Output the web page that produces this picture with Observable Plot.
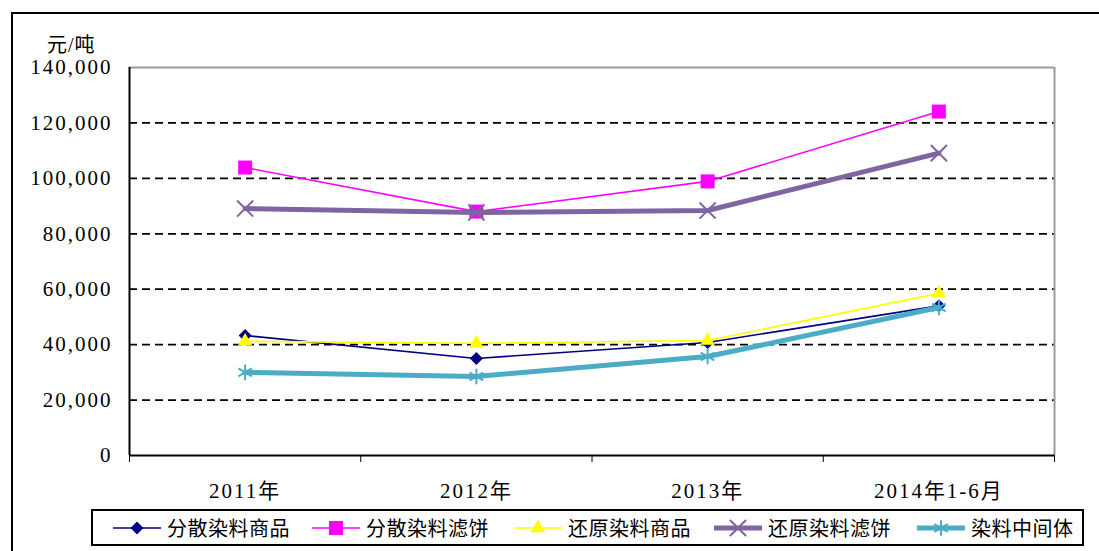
<!DOCTYPE html>
<html>
<head>
<meta charset="utf-8">
<script src="https://cdn.jsdelivr.net/npm/d3@7"></script>
<script src="https://cdn.jsdelivr.net/npm/@observablehq/plot@0.6"></script>
<style>
  html, body { margin: 0; padding: 0; background: #fff; }
  body { width: 1099px; height: 551px; position: relative; overflow: hidden;
         font-family: "Liberation Serif", "Noto Sans CJK SC", serif; }
  #frame { position: absolute; left: 11px; top: 12px; width: 1100px; height: 560px;
           border: 2px solid #000; box-sizing: border-box; }
  #chart { position: absolute; left: 0; top: 0; }
  #unit { position: absolute; left: 47px; top: 29px; font-size: 20px; letter-spacing: 1px; }
  #legend { position: absolute; left: 91px; top: 509px; width: 993px; height: 37px;
            border: 2px solid #000; box-sizing: border-box; background: #fff; }
  .item { position: absolute; top: 0; height: 33px; display: flex; align-items: center; }
  .item span { font-family: "Noto Sans CJK SC", sans-serif; font-size: 20px; margin-left: 6px; letter-spacing: 0.5px; }
  g[aria-label="y-axis tick label"] text { letter-spacing: 2px; }
  g[aria-label="x-axis tick label"] text { letter-spacing: 2px; }
</style>
</head>
<body>
<div id="frame"></div>
<div id="chart"></div>
<div id="unit">元/吨</div>
<div id="legend"></div>
<script>
// ---- data ----
const categories = ["2011年", "2012年", "2013年", "2014年1-6月"];
const seriesNames = ["分散染料商品", "分散染料滤饼", "还原染料商品", "还原染料滤饼", "染料中间体"];
const dispersedProduct = [43300, 35000, 40800, 54000];
const dispersedCake    = [103900, 88000, 98900, 124100];
const vatProduct       = [41200, 40500, 41500, 58500];
const vatCake          = [89100, 87700, 88400, 109100];
const intermediate     = [30000, 28500, 35700, 53400];
const yTicks = [0, 20000, 40000, 60000, 80000, 100000, 120000, 140000];

const seriesValues = [dispersedProduct, dispersedCake, vatProduct, vatCake, intermediate];
const styles = [
  {color: "#000080", width: 1.6, symbol: "square", r: 5.2, rotate: 45, filled: true},
  {color: "#FF00FF", width: 1.6, symbol: "square", r: 7.9, rotate: 0, filled: true},
  {color: "#FFFF00", width: 1.6, symbol: "triangle", r: 5.4, rotate: 0, filled: true},
  {color: "#8064A2", width: 5, symbol: "times", r: 7.4, rotate: 0, filled: false},
  {color: "#4BACC6", width: 5, symbol: "asterisk", r: 7.4, rotate: 0, filled: false}
];

const data = [];
seriesNames.forEach((name, si) => {
  seriesValues[si].forEach((v, i) => data.push({series: name, si, idx: i + 0.5, value: v}));
});

const marks = [
  // gridlines
  Plot.ruleY(yTicks.filter(d => d > 0 && d < 140000), {stroke: "#000", strokeWidth: 1.7, strokeDasharray: "8,5"}),
  Plot.ruleY([140000], {stroke: "#9a9a9a", strokeWidth: 2}),
  Plot.ruleX([4], {stroke: "#9a9a9a", strokeWidth: 2}),
  Plot.ruleX([0], {stroke: "#000", strokeWidth: 2}),
  Plot.ruleY([0], {stroke: "#000", strokeWidth: 2}),
  Plot.axisY({ticks: yTicks, tickSize: 0, tickPadding: 17, tickFormat: d3.format(","), fontSize: 21, label: null}),
  Plot.axisX({ticks: [0, 1, 2, 3, 4], tickSize: 7, tickFormat: () => "", stroke: "#000", label: null}),
  Plot.axisX({ticks: [0.5, 1.5, 2.5, 3.5], tickSize: 0, tickPadding: 28, fontSize: 21, label: null,
              tickFormat: d => categories[Math.floor(d)]})
];

seriesNames.forEach((name, si) => {
  const s = styles[si];
  const pts = data.filter(d => d.si === si);
  marks.push(Plot.line(pts, {x: "idx", y: "value", stroke: s.color, strokeWidth: s.width}));
  marks.push(Plot.dot(pts, {
    x: "idx", y: "value", symbol: () => s.symbol, r: s.r, rotate: s.rotate,
    fill: s.filled ? s.color : "none", stroke: s.filled ? "none" : s.color, strokeWidth: 2
  }));
});

const plot = Plot.plot({
  width: 1099,
  height: 551,
  marginLeft: 129,
  marginRight: 45,
  marginTop: 67,
  marginBottom: 96,
  style: {fontFamily: '"Liberation Serif", "Noto Sans CJK SC", serif', fontSize: "21px", color: "#000", background: "transparent", overflow: "visible"},
  x: {type: "linear", domain: [0, 4], axis: null, label: null},
  y: {type: "linear", domain: [0, 140000], axis: null, label: null},
  symbol: {type: "identity"},
  marks
});
document.getElementById("chart").appendChild(plot);

// ---- legend ----
const legendX = [20, 219, 421, 621, 824];
const legend = d3.select("#legend");
seriesNames.forEach((name, si) => {
  const s = styles[si];
  const item = legend.append("div").attr("class", "item").style("left", legendX[si] + "px");
  const svg = item.append("svg").attr("width", 48).attr("height", 30);
  svg.append("line").attr("x1", 0).attr("x2", 48).attr("y1", 15).attr("y2", 15)
    .attr("stroke", s.color).attr("stroke-width", s.width);
  const sym = {square: d3.symbolSquare, triangle: d3.symbolTriangle, times: d3.symbolTimes, asterisk: d3.symbolAsterisk}[s.symbol];
  svg.append("path").attr("d", d3.symbol(sym, Math.PI * s.r * s.r)())
    .attr("transform", `translate(24,15) rotate(${s.rotate})`)
    .attr("fill", s.filled ? s.color : "none").attr("stroke", s.filled ? "none" : s.color).attr("stroke-width", 2);
  item.append("span").text(name);
});
</script>
</body>
</html>
